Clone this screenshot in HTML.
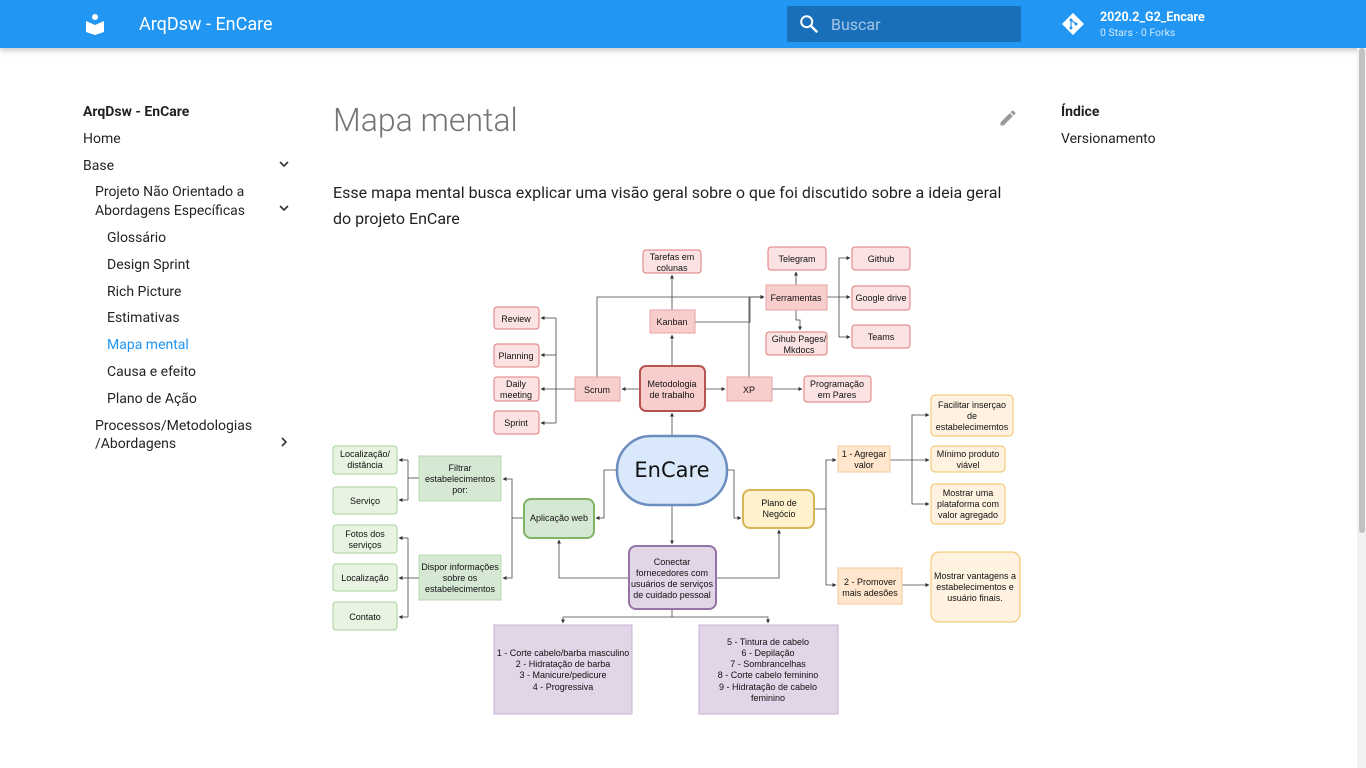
<!DOCTYPE html>
<html><head><meta charset="utf-8"><style>
*{margin:0;padding:0;box-sizing:border-box}
body{width:1366px;height:768px;overflow:hidden;background:#fff;font-family:"Roboto","Liberation Sans",sans-serif;position:relative;color:rgba(0,0,0,.87)}
.hdr{position:absolute;left:0;top:0;width:1366px;height:48px;background:#2196f3;box-shadow:0 2px 6px rgba(0,0,0,.25)}
.a{position:absolute;white-space:nowrap}
.nav{font-size:14px;color:rgba(0,0,0,.87)}
.sb{position:absolute;right:0;top:48px;width:9px;height:720px;background:#f2f2f2}
.sb div{position:absolute;left:2px;top:0;width:6px;height:485px;background:#c1c1c1;border-radius:3px}
</style></head><body>
<div class="hdr"></div>
<svg class="a" style="left:84px;top:13px" width="22" height="22" viewBox="0 0 22 22"><circle cx="11" cy="4" r="3" fill="#fff"/><path d="M2 8 L11 12 L20 8 L20 19 L11 22 L2 19Z" fill="#fff"/></svg>
<div class="a" style="left:139px;top:14px;font-size:18px;color:#fff">ArqDsw - EnCare</div>
<div class="a" style="left:787px;top:6px;width:234px;height:36px;background:#1a6fba;border-radius:2px"></div>
<svg class="a" style="left:798px;top:13px" width="22" height="22" viewBox="0 0 24 24"><circle cx="9.5" cy="9.5" r="6" fill="none" stroke="#fff" stroke-width="2.2"/><path d="M14 14 L21 21" stroke="#fff" stroke-width="2.6"/></svg>
<div class="a" style="left:831px;top:15px;font-size:16px;color:rgba(255,255,255,.6)">Buscar</div>
<svg class="a" style="left:1061px;top:12px" width="24" height="24" viewBox="0 0 24 24"><path d="M12 1 L23 12 L12 23 L1 12Z" fill="#fff"/><circle cx="10" cy="8" r="1.5" fill="#2196f3"/><circle cx="10" cy="16" r="1.5" fill="#2196f3"/><circle cx="15" cy="12" r="1.5" fill="#2196f3"/><path d="M10 8V16M10 8L15 12" stroke="#2196f3" stroke-width="1.2"/></svg>
<div class="a" style="left:1100px;top:10px;font-size:12.5px;font-weight:bold;color:#fff">2020.2_G2_Encare</div>
<div class="a" style="left:1100px;top:26px;font-size:10.5px;color:rgba(255,255,255,.8)">0 Stars · 0 Forks</div>
<div class="sb"><div></div></div>

<div class="a nav" style="left:83px;top:104px;font-weight:bold">ArqDsw - EnCare</div>
<div class="a nav" style="left:83px;top:131px">Home</div>
<div class="a nav" style="left:83px;top:158px">Base</div>
<div class="a nav" style="left:95px;top:183px;line-height:19px">Projeto Não Orientado a<br>Abordagens Específicas</div>
<div class="a nav" style="left:107px;top:230px">Glossário</div>
<div class="a nav" style="left:107px;top:257px">Design Sprint</div>
<div class="a nav" style="left:107px;top:284px">Rich Picture</div>
<div class="a nav" style="left:107px;top:310px">Estimativas</div>
<div class="a nav" style="left:107px;top:337px;color:#2196f3">Mapa mental</div>
<div class="a nav" style="left:107px;top:364px">Causa e efeito</div>
<div class="a nav" style="left:107px;top:391px">Plano de Ação</div>
<div class="a nav" style="left:95px;top:417px;line-height:18px">Processos/Metodologias<br>/Abordagens</div>
<svg class="a" style="left:278px;top:159px" width="12" height="300"><path d="M2 3L6 7L10 3" fill="none" stroke="#333" stroke-width="1.6"/><path d="M2 47L6 51L10 47" fill="none" stroke="#333" stroke-width="1.6"/><path d="M4 279L8 283L4 287" fill="none" stroke="#333" stroke-width="1.6"/></svg>

<div class="a" style="left:333px;top:101px;font-size:32px;font-weight:300;color:rgba(0,0,0,.55)">Mapa mental</div>
<svg class="a" style="left:998px;top:108px" width="20" height="20" viewBox="0 0 24 24"><path d="M3 17.25V21h3.75L17.8 9.94l-3.75-3.75L3 17.25zM20.7 7.04a1 1 0 000-1.41l-2.34-2.34a1 1 0 00-1.41 0l-1.83 1.83 3.75 3.75 1.83-1.83z" fill="#999"/></svg>
<div class="a" style="left:333px;top:180px;font-size:16px;line-height:26px;white-space:normal;width:690px">Esse mapa mental busca explicar uma visão geral sobre o que foi discutido sobre a ideia geral do projeto EnCare</div>
<div class="a nav" style="left:1061px;top:104px;font-weight:bold">Índice</div>
<div class="a nav" style="left:1061px;top:131px">Versionamento</div>

<svg class="a" style="left:0;top:0" width="1366" height="768" font-family="Liberation Sans, sans-serif" font-size="9" text-anchor="middle">
<defs><marker id="m" markerWidth="5" markerHeight="5" refX="4.5" refY="2.5" orient="auto"><path d="M0 0L5 2.5L0 5Z" fill="#333"/></marker></defs>
<g fill="none" stroke="#444" stroke-width="0.8">
<path d="M672 366V335" marker-end="url(#m)"/>
<path d="M672 310V275" marker-end="url(#m)"/>
<path d="M695 322H750V297H764" marker-end="url(#m)"/>
<path d="M597 377V297H764" marker-end="url(#m)"/>
<path d="M749 377V297"/>
<path d="M640 389H622" marker-end="url(#m)"/>
<path d="M705 389H725" marker-end="url(#m)"/>
<path d="M772 389H802" marker-end="url(#m)"/>
<path d="M575 389H541" marker-end="url(#m)"/>
<path d="M556 318V423"/>
<path d="M556 318H541" marker-end="url(#m)"/>
<path d="M556 355H541" marker-end="url(#m)"/>
<path d="M556 423H541" marker-end="url(#m)"/>
<path d="M796 285V272" marker-end="url(#m)"/>
<path d="M796 310V320H800V330" marker-end="url(#m)"/>
<path d="M827 297H850" marker-end="url(#m)"/>
<path d="M839 297V258H850" marker-end="url(#m)"/>
<path d="M839 297V337H850" marker-end="url(#m)"/>
<path d="M672 436V413" marker-end="url(#m)"/>
<path d="M672 505V544" marker-end="url(#m)"/>
<path d="M617 470H604V518H596" marker-end="url(#m)"/>
<path d="M727 470H734V518H741" marker-end="url(#m)"/>
<path d="M629 578H559V540" marker-end="url(#m)"/>
<path d="M716 578H779V530" marker-end="url(#m)"/>
<path d="M672 609V617H563V623" marker-end="url(#m)"/>
<path d="M672 617H768V623" marker-end="url(#m)"/>
<path d="M524 518H512V479H503" marker-end="url(#m)"/>
<path d="M512 518V578H503" marker-end="url(#m)"/>
<path d="M419 478H408"/><path d="M408 460V500"/>
<path d="M408 460H399" marker-end="url(#m)"/><path d="M408 500H399" marker-end="url(#m)"/>
<path d="M419 578H408"/><path d="M408 538V617"/>
<path d="M408 538H399" marker-end="url(#m)"/><path d="M408 578H399" marker-end="url(#m)"/><path d="M408 617H399" marker-end="url(#m)"/>
<path d="M814 509H826V460H836" marker-end="url(#m)"/>
<path d="M826 509V585H836" marker-end="url(#m)"/>
<path d="M890 460H929" marker-end="url(#m)"/>
<path d="M912 460V415H929" marker-end="url(#m)"/>
<path d="M912 460V504H929" marker-end="url(#m)"/>
<path d="M902 585H929" marker-end="url(#m)"/>
</g>
<g stroke-width="1">
<g fill="#fbe3e3" stroke="#e07a7a">
<rect x="643" y="250" width="58" height="23" rx="3"/><rect x="768" y="247" width="58" height="23" rx="3"/>
<rect x="852" y="247" width="58" height="23" rx="3"/><rect x="852" y="286" width="58" height="24" rx="3"/>
<rect x="766" y="332" width="61" height="23" rx="3"/><rect x="852" y="325" width="58" height="23" rx="3"/>
<rect x="494" y="307" width="45" height="22" rx="3"/><rect x="494" y="344" width="45" height="23" rx="3"/>
<rect x="494" y="377" width="45" height="24" rx="3"/><rect x="494" y="411" width="45" height="23" rx="3"/>
<rect x="804" y="376" width="67" height="26" rx="3"/>
</g>
<g fill="#f8cecc" stroke="#e8a3a3">
<rect x="650" y="310" width="45" height="23"/><rect x="766" y="285" width="61" height="25"/>
<rect x="575" y="377" width="45" height="24"/><rect x="727" y="377" width="45" height="24"/>
</g>
<rect x="640" y="366" width="65" height="45" rx="6" fill="#f8cecc" stroke="#b85450" stroke-width="2"/>
<rect x="617" y="436" width="110" height="69" rx="34" fill="#dae8fc" stroke="#6c8ebf" stroke-width="2.5"/>
<g fill="#fff2e0" stroke="#f0c060">
<rect x="931" y="395" width="82" height="41" rx="4"/><rect x="931" y="446" width="74" height="26" rx="4"/>
<rect x="931" y="484" width="74" height="40" rx="4"/><rect x="931" y="552" width="89" height="70" rx="8"/>
</g>
<g fill="#ffe6cc" stroke="#f5c89a"><rect x="838" y="446" width="52" height="26"/><rect x="838" y="568" width="64" height="36"/></g>
<rect x="743" y="490" width="71" height="38" rx="7" fill="#fff2cc" stroke="#d6b656" stroke-width="2"/>
<g fill="#e8f3e2" stroke="#a6d09a">
<rect x="333" y="446" width="64" height="28" rx="3"/><rect x="333" y="487" width="64" height="27" rx="3"/>
<rect x="333" y="525" width="64" height="28" rx="3"/><rect x="333" y="564" width="64" height="27" rx="3"/>
<rect x="333" y="602" width="64" height="28" rx="3"/>
</g>
<g fill="#d5e8d4" stroke="#b8dab0"><rect x="419" y="456" width="82" height="45"/><rect x="419" y="555" width="82" height="45"/></g>
<rect x="524" y="499" width="70" height="39" rx="7" fill="#d5e8d4" stroke="#82b366" stroke-width="2"/>
<rect x="629" y="546" width="87" height="63" rx="7" fill="#e1d5e7" stroke="#9673a6" stroke-width="2"/>
<g fill="#e1d5e7" stroke="#c6b0d3"><rect x="494" y="625" width="138" height="89"/><rect x="699" y="625" width="139" height="89"/></g>
</g>
<g fill="#111">
<text x="672" y="260">Tarefas em</text><text x="672" y="271">colunas</text>
<text x="797" y="262">Telegram</text><text x="881" y="262">Github</text>
<text x="796" y="301">Ferramentas</text><text x="881" y="301">Google drive</text>
<text x="672" y="325">Kanban</text>
<text x="799" y="342">Gihub Pages/</text><text x="799" y="353">Mkdocs</text>
<text x="881" y="340">Teams</text>
<text x="516" y="322">Review</text><text x="516" y="359">Planning</text>
<text x="516" y="387">Daily</text><text x="516" y="398">meeting</text>
<text x="516" y="426">Sprint</text>
<text x="597" y="393">Scrum</text><text x="749" y="393">XP</text>
<text x="672" y="387">Metodologia</text><text x="672" y="398">de trabalho</text>
<text x="837" y="387">Programação</text><text x="837" y="398">em Pares</text>
<text x="672" y="477" font-family="DejaVu Sans, sans-serif" font-size="21">EnCare</text>
<text x="972" y="408">Facilitar inserçao</text><text x="972" y="419">de</text><text x="972" y="430">estabelecimemtos</text>
<text x="864" y="457">1 - Agregar</text><text x="864" y="468">valor</text>
<text x="968" y="457">Mínimo produto</text><text x="968" y="468">viável</text>
<text x="968" y="496">Mostrar uma</text><text x="968" y="507">plataforma com</text><text x="968" y="518">valor agregado</text>
<text x="779" y="506">Plano de</text><text x="779" y="517">Negócio</text>
<text x="870" y="585">2 - Promover</text><text x="870" y="596">mais adesões</text>
<text x="975" y="579">Mostrar vantagens a</text><text x="975" y="590">estabelecimentos e</text><text x="975" y="601">usuário finais.</text>
<text x="365" y="457">Localização/</text><text x="365" y="468">distância</text>
<text x="365" y="504">Serviço</text>
<text x="365" y="537">Fotos dos</text><text x="365" y="548">serviços</text>
<text x="365" y="581">Localização</text><text x="365" y="620">Contato</text>
<text x="460" y="471">Filtrar</text><text x="460" y="482">estabelecimentos</text><text x="460" y="493">por:</text>
<text x="460" y="570">Dispor informações</text><text x="460" y="581">sobre os</text><text x="460" y="592">estabelecimentos</text>
<text x="559" y="521">Aplicação web</text>
<text x="672" y="565">Conectar</text><text x="672" y="576">fornecedores com</text><text x="672" y="587">usuários de serviços</text><text x="672" y="598">de cuidado pessoal</text>
<text x="563" y="656">1 - Corte cabelo/barba masculino</text><text x="563" y="667">2 - Hidratação de barba</text><text x="563" y="678">3 - Manicure/pedicure</text><text x="563" y="690">4 - Progressiva</text>
<text x="768" y="645">5 - Tintura de cabelo</text><text x="768" y="656">6 - Depilação</text><text x="768" y="667">7 - Sombrancelhas</text><text x="768" y="678">8 - Corte cabelo feminino</text><text x="768" y="690">9 - Hidratação de cabelo</text><text x="768" y="701">feminino</text>
</g>
</svg>
</body></html>
